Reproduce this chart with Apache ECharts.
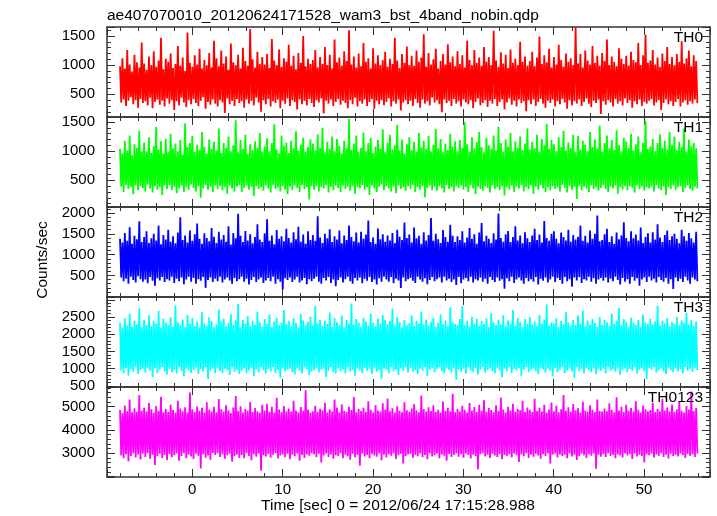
<!DOCTYPE html>
<html><head><meta charset="utf-8">
<script src="https://cdn.jsdelivr.net/npm/echarts@6/dist/echarts.min.js"></script>
<style>html,body{margin:0;padding:0;background:#fff}#c{width:717px;height:516px}</style>
</head><body><div id="c"></div>
<script>
const titleText = 'ae407070010_20120624171528_wam3_bst_4band_nobin.qdp';
const xLabel = 'Time [sec] 0 = 2012/06/24 17:15:28.988';
const yLabel = 'Counts/sec';
const bandNames = ['TH0', 'TH1', 'TH2', 'TH3', 'TH0123'];
const bandColors = ['#ff0000', '#00ff00', '#0000ff', '#00ffff', '#ff00ff'];
const xRange = [-9.44, 57.3];
const xTickLabels = [0, 10, 20, 30, 40, 50];
const yRanges = [[110, 1655], [43, 1586], [-20, 2145], [470, 3080], [1980, 5840]];
const ySplits = [3, 3, 4, 5, 4];
const yTickLabels = [[500, 1000, 1500], [500, 1000, 1500], [500, 1000, 1500, 2000], [500, 1000, 1500, 2000, 2500], [3000, 4000, 5000]];
const tStart = -8.0, tStep = 0.1334;

// values read column by column (local high, local low) from the picture
const th0 = [
980,360,1120,410,940,300,1260,390,1010,450,890,330,1180,400,1050,270,960,420,1390,350,
1030,380,920,310,1150,440,1000,260,1240,370,970,410,1080,320,1470,390,930,290,1110,430,
1060,340,1200,400,950,230,1020,380,1330,310,990,440,1130,360,900,280,1560,400,1040,330,
970,420,1170,350,1010,300,1280,390,940,450,1090,250,1000,370,1210,320,960,410,1420,340,
1120,290,980,400,1250,360,1030,180,1150,430,920,330,1370,390,1050,300,1000,420,1180,350,
940,380,1300,270,1070,410,990,340,1620,390,1100,310,960,440,1230,360,1020,200,1140,400,
1010,330,1190,420,950,290,1450,380,1080,350,1000,410,1270,260,970,390,1120,340,1060,430,
1350,300,990,400,1160,370,930,240,1210,410,1040,330,1500,390,980,310,1110,420,1020,350,
1090,280,1260,400,960,360,1140,430,1020,170,1310,390,1000,340,1180,410,940,300,1440,370,
1050,420,1130,320,990,390,1240,350,1070,260,1600,400,1010,330,1150,440,960,290,1200,380,
980,340,1380,410,1060,300,1120,370,940,420,1290,250,1030,390,1170,330,1000,400,1090,310,
1230,370,970,430,1110,290,1020,380,1470,340,1080,410,950,220,1190,360,1040,400,1320,330,
1000,390,1160,300,990,420,1250,350,1060,270,1130,410,1530,340,970,380,1210,310,1010,440,
1100,360,1280,400,940,330,1070,190,1190,410,1010,350,1360,390,1050,300,1150,420,980,340,
1240,380,1020,290,1170,410,960,360,1420,330,1090,400,1000,260,1260,370,1040,430,1130,310,
990,350,1310,400,1060,280,1140,390,1000,340,1590,420,1080,300,970,370,1220,410,1030,240,
1180,360,950,430,1270,320,1040,390,1110,290,1000,410,1400,350,1060,380,1150,210,990,400,
1070,330,1230,410,980,300,1130,370,1490,420,1020,340,1170,270,1050,390,1280,350,960,410,
1140,290,1010,380,1350,330,1090,420,970,360,1200,250,1060,400,1120,310,1000,380,1650,340,
1030,410,1190,300,960,370,1250,430,1080,340,1010,280,1330,390,1040,350,1160,410,990,160,
1210,380,1070,320,1440,400,1000,360,1150,290,1060,420,980,340,1290,380,1110,310,1020,430,
1160,350,990,400,1230,270,1090,380,1050,330,1380,410,1000,300,1170,370,1520,340,1040,390,
1080,420,1260,310,1010,360,1130,400,970,230,1200,350,1070,410,1310,330,1020,380,1140,300,
1000,370,1190,420,1060,290,1410,360,1030,400,1120,320,1250,380,980,340,1170,410,1070,350
];
const th1 = [
1040,390,960,300,1180,420,1010,350,1270,380,930,260,1120,410,1060,330,1350,400,990,370,
1150,310,1000,430,1240,360,970,290,1090,400,1420,340,1030,380,1170,250,960,410,1210,350,
980,420,1300,330,1050,390,1130,280,1000,360,1190,410,940,300,1480,380,1070,340,1140,430,
1260,370,990,310,1110,400,1020,200,1330,360,1080,420,960,340,1200,390,1040,300,1160,410,
1010,350,1390,400,970,330,1140,380,1060,270,1250,410,1000,360,1100,310,1530,390,980,420,
1190,300,1040,370,1280,410,950,340,1120,390,1020,230,1170,400,1060,350,1310,380,990,320,
1080,410,1220,360,1000,290,1140,420,1460,350,1030,380,960,310,1270,400,1090,340,1150,260,
970,390,1180,330,1050,410,1340,370,1010,300,1110,420,1230,350,990,380,1070,170,1200,400,
1130,340,1010,400,1290,310,1060,380,1400,360,980,420,1160,290,1040,390,1250,330,1000,410,
1210,370,1090,300,960,410,1180,350,1050,390,1550,320,1020,400,1130,270,1270,380,990,360,
1060,420,1320,340,1000,380,1140,250,1230,410,970,360,1080,300,1190,390,1040,430,1370,330,
980,400,1150,360,1280,310,1030,390,1100,280,1450,410,1010,350,1200,380,960,320,1120,400,
1240,350,1020,420,1160,300,990,380,1310,340,1070,400,1180,210,1040,370,1260,410,1000,330,
1110,390,1380,320,1050,400,1210,360,980,290,1130,420,1020,350,1300,380,1080,310,1170,400,
1000,370,1190,410,1060,340,1500,380,1120,300,990,420,1240,360,1050,260,1160,390,1330,350,
1070,320,980,400,1230,370,1100,290,1040,410,1270,350,1010,380,1420,330,1140,400,990,240,
1200,380,1080,340,1310,410,1000,300,1170,390,1060,360,1250,420,1020,310,1130,380,1390,350,
1030,410,1160,270,1050,390,1280,340,990,420,1210,360,1100,300,1470,380,1040,330,1190,400,
1120,350,1000,380,1240,310,1070,420,1350,370,1010,290,1150,400,1060,340,1280,390,980,180,
1260,400,1030,330,1180,390,1110,360,1000,300,1330,410,1070,350,1200,380,1050,320,1440,370,
990,420,1140,350,1270,300,1050,390,1190,360,1020,410,1360,270,1100,380,1000,340,1230,400,
1170,330,1060,400,1300,370,1010,290,1120,410,1250,350,980,390,1150,320,1520,380,1040,360,
1080,390,1210,310,1000,420,1140,360,1290,330,1060,400,1180,250,1030,380,1330,350,1110,410,
1250,340,1020,380,1160,400,1070,300,1390,370,990,410,1200,350,1090,320,1140,390,1050,360
];
const th2 = [
1380,450,1290,360,1520,420,1330,300,1660,470,1260,390,1450,330,1370,480,1800,410,1300,350,
1420,400,1560,310,1280,460,1390,370,1500,250,1340,430,1700,380,1250,460,1470,340,1360,410,
1600,380,1310,470,1440,320,1270,420,1530,360,1900,450,1350,290,1460,400,1290,470,1580,350,
1330,440,1490,300,1750,410,1380,370,1260,460,1510,200,1400,390,1320,450,1640,340,1430,420,
1280,360,1550,470,1360,330,1470,400,1310,450,1680,380,1240,300,1520,440,1390,360,1980,410,
1450,470,1300,350,1570,420,1340,280,1490,390,1270,460,1420,340,1730,400,1360,450,1300,320,
1510,380,1850,440,1330,360,1460,470,1250,300,1590,410,1380,350,1440,160,1320,430,1620,390,
1400,450,1290,340,1540,400,1370,470,1670,330,1310,380,1480,440,1260,290,1560,410,1350,360,
1470,420,1330,470,1920,350,1410,300,1280,440,1500,380,1390,460,1610,320,1300,400,1440,240,
1360,390,1580,450,1270,330,1460,410,1350,470,1700,360,1420,300,1320,440,1530,380,1290,450,
1550,310,1380,420,1480,370,1820,460,1300,340,1410,400,1260,280,1630,430,1370,350,1490,470,
1310,400,1460,350,1340,460,1520,310,1280,420,1600,380,1430,200,1350,450,1770,360,1400,410,
1480,440,1290,370,1650,320,1390,470,1450,400,1260,350,1540,430,1340,290,1470,390,1880,460,
1330,360,1500,410,1370,450,1280,330,1590,470,1420,380,1310,420,1720,340,1450,400,1300,270,
1440,460,1350,310,1560,400,1290,440,1410,360,1640,470,1380,330,1490,410,1260,380,1530,450,
1760,350,1320,420,1450,300,1380,460,1280,390,1510,340,1360,450,1990,370,1400,410,1310,180,
1490,430,1570,360,1300,470,1420,320,1680,400,1340,450,1460,380,1270,300,1540,440,1390,360,
1300,410,1460,350,1620,460,1350,280,1480,420,1290,370,1810,450,1400,330,1330,400,1500,470,
1560,340,1380,440,1270,390,1530,300,1420,460,1340,360,1600,410,1310,230,1470,450,1360,380,
1430,460,1700,320,1330,410,1450,380,1290,470,1580,350,1380,430,1500,300,1940,400,1320,440,
1350,370,1490,450,1620,330,1300,420,1440,360,1260,470,1530,390,1370,280,1460,440,1780,350,
1400,410,1320,300,1560,460,1390,370,1480,430,1340,250,1650,400,1280,450,1420,340,1510,470,
1290,380,1540,420,1360,330,1730,460,1410,390,1300,350,1470,440,1580,300,1350,410,1440,170,
1500,450,1380,360,1270,420,1600,340,1440,470,1330,380,1520,300,1390,450,1290,400,1550,360
];
const th3 = [
2330,950,2180,870,2460,1020,2250,800,2600,980,2210,910,2390,1040,2290,850,2750,960,2200,1000,
2410,890,2270,1030,2550,940,2230,760,2380,1010,2310,880,2680,970,2190,1050,2450,920,2340,830,
2260,1000,2500,900,2220,970,2830,860,2350,1040,2280,930,2430,780,2200,1010,2560,950,2300,880,
2470,960,2240,1030,2370,850,2190,990,2640,920,2320,1050,2250,700,2490,940,2380,1000,2210,870,
2290,1020,2720,930,2360,880,2450,1000,2230,960,2330,820,2580,1040,2270,910,2400,970,2880,850,
2200,940,2420,1010,2310,870,2530,950,2240,1030,2390,790,2280,980,2650,900,2350,1040,2220,960,
2440,860,2300,990,2570,920,2210,1050,2370,880,2480,960,2260,740,2340,1010,2700,930,2290,970,
2390,1000,2230,900,2460,840,2330,1020,2190,950,2590,870,2400,1040,2270,980,2360,810,2510,920,
2250,960,2820,1030,2310,890,2420,970,2240,1010,2380,760,2300,940,2630,1050,2210,900,2470,860,
2350,1010,2260,930,2540,980,2200,860,2410,1040,2320,920,2890,970,2280,800,2440,1000,2340,950,
2210,880,2480,1020,2370,940,2250,990,2600,850,2330,1030,2230,910,2450,960,2310,720,2560,1000,
2420,970,2290,870,2380,1050,2740,930,2260,980,2500,820,2350,1010,2200,940,2410,1040,2270,890,
2320,1030,2550,910,2240,960,2390,850,2310,1000,2660,940,2280,1050,2430,780,2250,970,2360,1020,
2470,900,2210,990,2340,1040,2580,930,2290,870,2400,1010,2230,960,2780,890,2350,1030,2300,680,
2260,980,2440,920,2820,1000,2270,860,2390,1040,2220,950,2510,900,2310,1020,2450,830,2240,970,
2380,1050,2300,890,2460,960,2200,1010,2620,930,2340,870,2270,1030,2420,940,2290,760,2550,1000,
2230,920,2400,1040,2320,870,2700,990,2250,950,2470,1020,2360,800,2210,970,2440,1050,2310,900,
2490,960,2280,1010,2370,930,2240,850,2560,1030,2300,980,2430,890,2860,1000,2260,940,2350,790,
2320,1020,2460,900,2210,970,2380,1040,2290,880,2640,950,2340,1010,2250,920,2410,740,2270,1050,
2540,930,2310,990,2690,860,2230,1030,2400,960,2280,900,2450,1020,2330,850,2210,980,2500,940,
2270,1000,2420,870,2350,1050,2240,940,2600,980,2300,910,2390,1030,2760,820,2260,960,2440,1010,
2360,900,2220,990,2480,940,2330,1040,2270,860,2410,970,2210,1010,2570,930,2340,700,2300,1020,
2450,970,2290,1040,2370,890,2830,950,2250,1010,2390,920,2320,850,2470,1030,2230,960,2350,900,
2300,1010,2510,930,2260,980,2400,870,2330,1050,2620,940,2280,990,2420,910,2240,1030,2370,960
];
const th0123 = [
4850,2900,4720,2780,5050,2960,4800,2650,5300,2880,4760,3000,4930,2820,4780,2950,5500,2730,4820,2990,
4950,2840,4790,3010,5150,2760,4880,2930,4740,2500,5020,2870,4810,2980,5420,2800,4760,2920,4900,2700,
4780,2970,5080,2830,4850,2910,4730,2990,5250,2680,4920,2880,4800,3000,4970,2790,4750,2940,5600,2860,
4890,2750,4770,2980,5000,2890,4820,2350,4950,2960,4740,2810,5180,2900,4860,2720,4790,3010,4990,2930,
4760,3000,5320,2840,4880,2950,4790,2760,5060,2910,4830,2980,4720,2640,4960,2870,5450,2930,4810,2800,
5010,2920,4750,2790,4900,3000,4820,2880,5200,2700,4770,2960,4940,2850,4800,2990,4730,2250,5080,2910,
4830,2860,5120,2970,4780,2810,4990,2940,4740,3010,5380,2770,4870,2900,4760,2950,5020,2830,4800,2980,
4920,2740,4790,2930,5250,2870,4830,2990,4760,2680,4980,2920,4820,2800,5700,2960,4870,2890,4750,3000,
4800,2950,5040,2830,4770,2980,4910,2600,4840,2900,5160,2990,4750,2840,4880,2950,4790,2760,5300,2910,
4960,2880,4740,3000,5090,2790,4820,2940,4780,2870,4990,2720,4850,2980,5410,2830,4760,2930,4900,2460,
4810,2990,4950,2860,4770,2920,5230,2780,4860,2970,4740,2900,5060,2850,4830,2990,4790,2700,5140,2940,
4870,2820,5350,2960,4800,2890,4930,3000,4750,2750,5010,2910,4820,2980,4760,2560,5180,2880,4840,2950,
4780,2970,4920,2800,5100,2940,4830,2870,4760,2990,5480,2830,4880,2920,4790,2740,4970,3000,4810,2860,
5060,2910,4770,2990,4860,2780,4740,2950,5220,2890,4820,2680,4950,2970,4800,2840,5550,2930,4760,3000,
4900,2850,4790,2960,5030,2810,4860,2990,4750,2920,5150,2770,4830,2940,4980,2880,4770,2300,5080,2960,
4820,3000,5270,2860,4780,2930,4940,2800,4850,2980,4760,2900,5060,2840,4810,2970,5390,2740,4870,2920,
4750,2880,4990,2960,4830,2830,5120,2990,4780,2910,4900,2620,4840,2950,5250,2870,4770,3000,4960,2800,
4860,2940,4770,2850,5330,2980,4810,2900,4950,2760,4790,2970,5080,2880,4740,2990,4870,2560,5170,2930,
4800,2990,5040,2820,4760,2950,4890,2880,5500,2930,4820,2790,4970,3000,4780,2860,5110,2940,4840,2710,
4930,2870,4750,2980,5210,2910,4830,2800,4780,2960,5060,2890,4860,2990,4770,2330,5300,2930,4810,2850,
4790,2960,4920,2840,4800,3000,5140,2880,4850,2930,4760,2780,5400,2950,4830,2900,4990,2820,4770,2990,
5080,2900,4820,2970,4940,2750,4790,2990,5230,2860,4860,2940,4750,2880,5050,2600,4880,2960,4800,2910,
4850,2990,5160,2820,4770,2950,4910,2890,4800,3000,5340,2840,4830,2930,4960,2770,4790,2980,5090,2880,
4780,2940,4890,2860,5200,2990,4820,2910,4750,2800,5020,2970,4870,2890,5650,2950,4810,2840,4940,2990
];
const bandValues = [th0, th1, th2, th3, th0123];

const FONT = '"Liberation Sans", Arial, Helvetica, sans-serif';
const panelTop = 27, panelH = 90, gridLeft = 107, gridRight = 7;
const axisColor = '#333';

const grids = [], xAxes = [], yAxes = [], series = [], graphics = [];
bandValues.forEach((vals, i) => {
  const top = panelTop + i * panelH;
  grids.push({ left: gridLeft, right: gridRight, top: top, height: panelH, containLabel: false });
  const baseX = {
    type: 'value', gridIndex: i, min: xRange[0], max: xRange[1], splitNumber: 6,
    axisLine: { show: true, onZero: false, lineStyle: { color: axisColor, width: 1.5 } },
    axisTick: { show: true, inside: true, length: 8, lineStyle: { color: axisColor, width: 1 } },
    minorTick: { show: true, splitNumber: 5, length: 4, lineStyle: { color: axisColor, width: 1 } },
    splitLine: { show: false }, minorSplitLine: { show: false }
  };
  xAxes.push(Object.assign({}, baseX, {
    position: 'bottom',
    axisLabel: { show: i === bandValues.length - 1, color: '#000', fontSize: 15, fontFamily: FONT, margin: 5,
      formatter: v => (xTickLabels.indexOf(Math.round(v * 1000) / 1000) >= 0 ? String(v) : '') }
  }));
  xAxes.push(Object.assign({}, baseX, { position: 'top', axisLabel: { show: false } }));
  const labs = yTickLabels[i];
  const baseY = {
    type: 'value', gridIndex: i, min: yRanges[i][0], max: yRanges[i][1], splitNumber: ySplits[i],
    axisLine: { show: true, onZero: false, lineStyle: { color: axisColor, width: 1.5 } },
    axisTick: { show: true, inside: true, length: 8, lineStyle: { color: axisColor, width: 1 } },
    minorTick: { show: true, splitNumber: 5, length: 4, lineStyle: { color: axisColor, width: 1 } },
    splitLine: { show: false }, minorSplitLine: { show: false }
  };
  yAxes.push(Object.assign({}, baseY, {
    position: 'left',
    axisLabel: { show: true, color: '#000', fontSize: 15, fontFamily: FONT, margin: 12,
      formatter: v => (labs.indexOf(v) >= 0 ? String(v) : '') }
  }));
  yAxes.push(Object.assign({}, baseY, { position: 'right', axisLabel: { show: false } }));
  series.push({
    type: 'line', xAxisIndex: 2 * i, yAxisIndex: 2 * i, symbol: 'none', showSymbol: false,
    sampling: null, clip: true, silent: true,
    lineStyle: { color: bandColors[i], width: 1.8 },
    data: vals.map((v, k) => [tStart + k * tStep, v])
  });
  graphics.push({ type: 'text', x: 703, y: top + 3, silent: true, z: 10,
    style: { text: bandNames[i], font: '15.5px ' + FONT, fill: '#000', textAlign: 'right', textVerticalAlign: 'top' } });
});
graphics.push({ type: 'text', x: 107, y: 8, style: { text: titleText, font: '15.5px ' + FONT, fill: '#000', textAlign: 'left', textVerticalAlign: 'top' } });
graphics.push({ type: 'text', x: 398, y: 506, style: { text: xLabel, font: '15.5px ' + FONT, fill: '#000', textAlign: 'center', textVerticalAlign: 'middle' } });
graphics.push({ type: 'text', x: 43, y: 260, rotation: Math.PI / 2, style: { text: yLabel, font: '15.5px ' + FONT, fill: '#000', textAlign: 'center', textVerticalAlign: 'middle' } });

const chart = echarts.init(document.getElementById('c'), null, { renderer: 'canvas' });
chart.setOption({
  animation: false, backgroundColor: '#fff',
  grid: grids, xAxis: xAxes, yAxis: yAxes, series: series, graphic: graphics
});
</script></body></html>
